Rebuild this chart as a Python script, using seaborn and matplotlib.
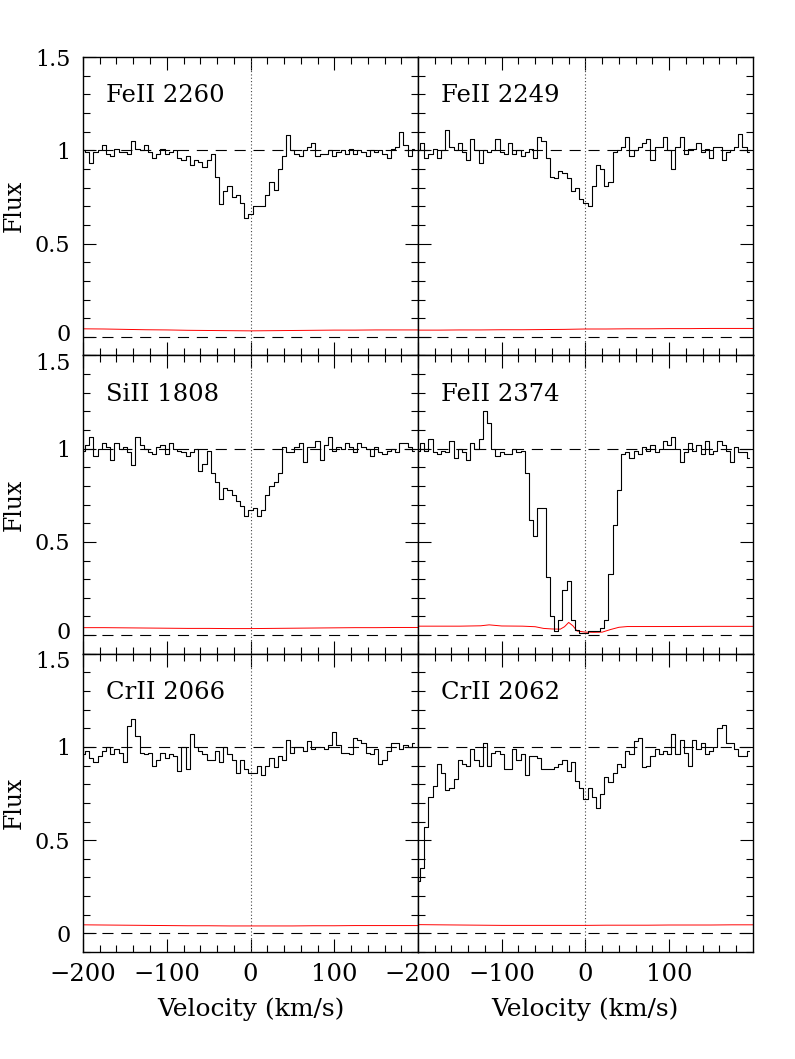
import numpy as np
import pandas as pd
import matplotlib
matplotlib.use("Agg")
import matplotlib.pyplot as plt
import matplotlib.transforms as mtransforms
import seaborn as sns
from matplotlib.ticker import MultipleLocator

# Geschwindigkeitsgitter (km/s) der Spektren
VELOCITY = np.arange(-200, 200, 5)

# normierter Fluss pro Linie
FEII_2260 = [1.00, 0.99, 0.93, 0.99, 1.00, 1.03, 0.98, 0.97, 1.01, 0.99,
             0.99, 0.98, 1.05, 1.01, 1.00, 1.03, 0.99, 0.96, 0.98, 1.01,
             0.98, 0.99, 1.00, 0.96, 0.95, 0.97, 0.92, 0.95, 0.94, 0.91,
             0.95, 0.98, 0.86, 0.71, 0.78, 0.81, 0.75, 0.76, 0.72, 0.64,
             0.66, 0.70, 0.70, 0.70, 0.76, 0.83, 0.79, 0.90, 0.97, 1.08,
             1.00, 0.98, 0.97, 1.00, 1.02, 1.04, 0.97, 0.98, 0.98, 1.00,
             0.97, 0.99, 1.00, 0.98, 1.01, 0.98, 1.00, 0.99, 0.97, 1.00,
             0.99, 1.00, 0.98, 0.96, 1.01, 1.02, 1.10, 1.03, 0.97, 1.01]

FEII_2249 = [1.00, 1.04, 0.96, 0.98, 1.01, 0.96, 1.00, 1.11, 1.02, 1.00,
             1.04, 0.99, 0.95, 1.06, 1.00, 0.93, 1.00, 0.99, 1.00, 1.06,
             0.99, 0.98, 1.04, 0.98, 1.00, 0.97, 0.99, 1.01, 0.96, 1.07,
             1.05, 0.96, 0.86, 0.85, 0.89, 0.88, 0.85, 0.78, 0.80, 0.74,
             0.72, 0.70, 0.81, 0.92, 0.90, 0.81, 0.83, 0.99, 1.00, 1.02,
             1.07, 0.97, 1.00, 1.02, 1.04, 1.06, 0.95, 1.02, 1.02, 1.07,
             1.00, 0.90, 1.02, 1.07, 0.98, 1.01, 1.01, 1.04, 0.99, 1.01,
             0.96, 1.02, 1.02, 0.95, 0.99, 1.00, 1.02, 1.09, 1.02, 0.99]

SIII_1808 = [0.99, 1.02, 1.06, 0.96, 1.00, 1.03, 1.01, 0.94, 1.03, 1.00,
             1.01, 0.98, 0.91, 1.06, 1.02, 1.00, 0.98, 0.97, 1.01, 1.02,
             0.97, 1.03, 1.00, 0.99, 0.98, 0.96, 0.98, 1.00, 0.88, 0.92,
             0.99, 0.87, 0.82, 0.73, 0.79, 0.78, 0.75, 0.72, 0.69, 0.64,
             0.67, 0.68, 0.64, 0.67, 0.75, 0.80, 0.82, 0.87, 1.01, 0.98,
             0.98, 1.01, 1.03, 0.93, 1.01, 1.01, 1.04, 0.94, 1.02, 1.06,
             0.99, 1.01, 1.00, 1.03, 1.01, 0.98, 1.03, 1.01, 1.00, 0.96,
             1.01, 0.98, 0.97, 0.99, 1.00, 0.98, 1.03, 1.03, 1.01, 0.99]

FEII_2374 = [0.99, 1.03, 0.99, 1.05, 0.98, 0.97, 0.99, 0.98, 1.04, 0.95,
             1.00, 0.98, 0.94, 1.03, 1.00, 1.05, 1.20, 1.14, 1.00, 0.96,
             0.98, 0.97, 0.97, 1.00, 0.98, 0.99, 0.87, 0.62, 0.53, 0.68,
             0.68, 0.31, 0.10, 0.02, 0.08, 0.24, 0.29, 0.08, 0.03, 0.01,
             0.01, 0.02, 0.02, 0.02, 0.04, 0.08, 0.33, 0.59, 0.78, 0.97,
             0.98, 0.95, 0.99, 0.97, 1.01, 0.99, 1.02, 0.98, 1.00, 1.04,
             1.02, 1.06, 1.00, 0.93, 0.98, 1.03, 0.99, 1.02, 0.97, 1.04,
             0.97, 0.99, 1.04, 1.02, 0.99, 0.93, 1.01, 0.98, 0.98, 0.95]

CRII_2066 = [0.96, 0.98, 0.94, 0.92, 0.95, 0.98, 1.00, 0.96, 0.99, 0.97,
             0.92, 1.11, 1.15, 1.06, 0.97, 0.96, 0.97, 0.90, 0.93, 0.97,
             0.94, 0.96, 0.95, 0.87, 1.00, 0.88, 1.07, 1.00, 0.98, 0.96,
             0.93, 0.93, 0.98, 0.92, 1.00, 0.96, 0.93, 0.86, 0.93, 0.88,
             0.86, 0.86, 0.90, 0.85, 0.90, 0.94, 0.89, 0.95, 0.93, 1.04,
             0.97, 1.00, 1.00, 0.98, 1.03, 0.99, 1.00, 1.00, 0.99, 1.01,
             1.08, 1.01, 0.97, 0.97, 0.96, 1.05, 1.04, 1.02, 0.97, 0.96,
             0.99, 0.91, 0.93, 0.98, 1.02, 1.02, 0.99, 1.01, 1.00, 1.02]

CRII_2062 = [0.28, 0.35, 0.57, 0.73, 0.79, 0.91, 0.86, 0.77, 0.78, 0.83,
             0.93, 0.91, 0.90, 0.99, 0.93, 0.90, 1.02, 0.90, 0.97, 0.98,
             0.96, 0.88, 0.88, 0.99, 0.93, 0.96, 0.85, 0.95, 0.95, 0.94,
             0.88, 0.88, 0.88, 0.89, 0.91, 0.93, 0.87, 0.92, 0.82, 0.78,
             0.72, 0.78, 0.73, 0.67, 0.75, 0.84, 0.81, 0.86, 0.91, 0.89,
             0.98, 0.96, 1.03, 1.05, 0.89, 0.90, 0.95, 0.99, 0.96, 0.98,
             0.96, 1.07, 0.96, 1.04, 0.97, 0.90, 1.04, 0.99, 1.02, 0.96,
             0.98, 1.00, 1.10, 1.12, 1.02, 1.02, 0.99, 0.95, 0.95, 0.98]

# Fehlerspektren (rot), grobes Gitter
ERR_VEL = [-200, -175, -150, -125, -100, -75, -50, -25, 0,
           25, 50, 75, 100, 125, 150, 175, 200]
ERR_2260 = [0.043, 0.042, 0.040, 0.038, 0.037, 0.035, 0.034, 0.033, 0.032,
            0.033, 0.034, 0.035, 0.036, 0.036, 0.037, 0.037, 0.037]
ERR_2249 = [0.036, 0.036, 0.037, 0.037, 0.038, 0.038, 0.039, 0.040, 0.042,
            0.042, 0.043, 0.043, 0.044, 0.044, 0.045, 0.045, 0.045]
ERR_1808 = [0.040, 0.040, 0.039, 0.038, 0.037, 0.036, 0.036, 0.035, 0.035,
            0.036, 0.037, 0.038, 0.039, 0.040, 0.040, 0.041, 0.041]
ERR_2066 = [0.046, 0.045, 0.044, 0.043, 0.042, 0.041, 0.041, 0.040, 0.040,
            0.040, 0.040, 0.041, 0.041, 0.042, 0.042, 0.042, 0.042]
ERR_2062 = [0.047, 0.046, 0.045, 0.044, 0.043, 0.043, 0.043, 0.043, 0.043,
            0.044, 0.044, 0.044, 0.045, 0.045, 0.045, 0.046, 0.046]
ERR_VEL_2374 = [-200, -150, -125, -115, -100, -75, -60, -50, -40, -30, -25,
                -20, -15, -10, 0, 10, 20, 30, 40, 50, 100, 150, 200]
ERR_2374 = [0.048, 0.048, 0.050, 0.055, 0.049, 0.048, 0.045, 0.036, 0.033,
            0.032, 0.045, 0.068, 0.050, 0.022, 0.016, 0.015, 0.016, 0.030,
            0.042, 0.046, 0.046, 0.047, 0.047]

LINES = ["FeII 2260", "FeII 2249", "SiII 1808", "FeII 2374", "CrII 2066", "CrII 2062"]
FLUXES = [FEII_2260, FEII_2249, SIII_1808, FEII_2374, CRII_2066, CRII_2062]
ERR_VELS = [ERR_VEL, ERR_VEL, ERR_VEL, ERR_VEL_2374, ERR_VEL, ERR_VEL]
ERRORS = [ERR_2260, ERR_2249, ERR_1808, ERR_2374, ERR_2066, ERR_2062]

XTICKS = [-200, -100, 0, 100]
XTICKLABELS = ["\u2212200", "\u2212100", "0", "100"]
YTICKS = [0, 0.5, 1, 1.5]
YTICKLABELS = ["0", "0.5", "1", "1.5"]

sns.set_style("ticks")
plt.rcParams["font.family"] = ["DejaVu Serif", "DejaVu Sans"]
plt.rcParams["font.size"] = 16
plt.rcParams["text.color"] = "black"
plt.rcParams["axes.labelcolor"] = "black"
plt.rcParams["xtick.color"] = "black"
plt.rcParams["ytick.color"] = "black"

fig, axes = plt.subplots(3, 2, figsize=(7.95, 10.59), dpi=100, sharex=True, sharey=True)
fig.subplots_adjust(left=0.1044, right=0.947, top=0.946, bottom=0.101, hspace=0, wspace=0)

# kleine Verschiebung, damit "0" und "1.5" an den Panelgrenzen nicht kollidieren
up = mtransforms.ScaledTranslation(0, 3 / 72, fig.dpi_scale_trans)
down = mtransforms.ScaledTranslation(0, -4 / 72, fig.dpi_scale_trans)

for i, ax in enumerate(axes.flat):
    spec = pd.DataFrame({"v": VELOCITY, "flux": FLUXES[i]})
    err = pd.DataFrame({"v": ERR_VELS[i], "err": ERRORS[i]})

    ax.axhline(1, color="black", lw=0.8, ls=(0, (10, 7)), zorder=1)
    ax.axhline(0, color="black", lw=0.8, ls=(0, (10, 7)), zorder=1)
    ax.axvline(0, color="#444444", lw=0.8, ls=(0, (1, 2)), zorder=1)

    sns.lineplot(data=err, x="v", y="err", ax=ax, color="red", lw=0.7, zorder=2)
    sns.lineplot(data=spec, x="v", y="flux", ax=ax, color="black", lw=0.8,
                 drawstyle="steps-mid", estimator=None, zorder=3)

    ax.set_xlim(-200, 199.9)
    ax.set_ylim(-0.1, 1.5)
    ax.set_xticks(XTICKS)
    ax.set_yticks(YTICKS)
    ax.xaxis.set_minor_locator(MultipleLocator(20))
    ax.yaxis.set_minor_locator(MultipleLocator(0.1))
    ax.tick_params(which="both", direction="in", top=True, right=True,
                   color="black", labelcolor="black")
    ax.tick_params(which="major", length=9.5, width=0.8)
    ax.tick_params(which="minor", length=5, width=0.8)
    ax.tick_params(axis="x", which="major", pad=8, labelsize=17.5)
    ax.tick_params(axis="y", which="major", pad=9, labelsize=16)
    for s in ax.spines.values():
        s.set_linewidth(1.0)
        s.set_color("black")

    ax.text(0.07, 0.87, LINES[i], transform=ax.transAxes, fontsize=17.5,
            ha="left", va="center", color="black")

    ax.set_xlabel("")
    ax.set_ylabel("")
    if i % 2 == 0:
        ax.set_yticklabels(YTICKLABELS)
        ax.set_ylabel("Flux", fontsize=17, labelpad=7, color="black")
        labels = ax.get_yticklabels()
        if i < 4:
            labels[0].set_transform(labels[0].get_transform() + up)
        if i > 0:
            labels[-1].set_transform(labels[-1].get_transform() + down)
    else:
        ax.tick_params(axis="y", labelleft=False)
    if i >= 4:
        ax.set_xticklabels(XTICKLABELS)
        ax.set_xlabel("Velocity (km/s)", fontsize=18, labelpad=8, color="black")

fig.savefig("out.png", dpi=100)
